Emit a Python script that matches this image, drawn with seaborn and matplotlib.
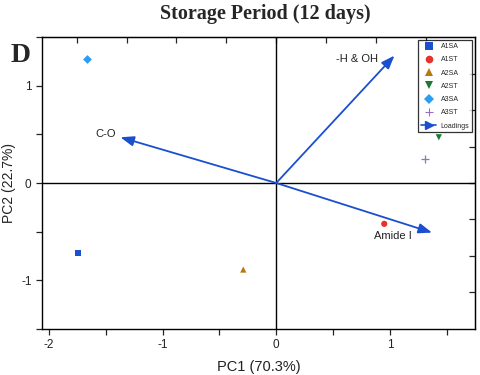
import seaborn as sns
import matplotlib.pyplot as plt
import pandas as pd
import numpy as np
from matplotlib.lines import Line2D

# scores
samples = ["A1SA", "A1ST", "A2SA", "A2ST", "A3SA", "A3ST"]
pc1 = [-1.74, 0.95, -0.29, 1.43, -1.66, 1.31]
pc2 = [-0.72, -0.42, -0.89, 0.47, 1.27, 0.25]
colors = ["#1a4fd0", "#e8302f", "#b8780c", "#1b7a2e", "#2a9df4", "#9a6fbf"]
markers = ["s", "o", "^", "v", "D", "+"]

# loadings
load_names = ["-H & OH", "C-O", "Amide I"]
load_x = [1.04, -1.37, 1.37]
load_y = [1.31, 0.47, -0.51]
label_x = [0.53, -1.59, 0.86]
label_y = [1.28, 0.50, -0.55]

df = pd.DataFrame({"Sample": samples, "PC1": pc1, "PC2": pc2})
filled = df.iloc[:5]
line_art = df.iloc[5:]

sns.set_style("white")
plt.rcParams["font.family"] = ["Liberation Sans", "DejaVu Sans"]
plt.rcParams["axes.unicode_minus"] = False

fig = plt.figure(figsize=(4.8, 3.75), dpi=100)
ax = fig.add_axes([0.0875, 0.123, 0.9025, 0.778])

sns.scatterplot(data=filled, x="PC1", y="PC2", hue="Sample", style="Sample",
                palette=colors[:5], markers=markers[:5], s=20,
                edgecolor="none", legend=False, ax=ax)
sns.scatterplot(data=line_art, x="PC1", y="PC2", color=colors[5], marker="+",
                s=35, linewidth=0.9, legend=False, ax=ax)

ax.axhline(0, color="black", lw=1)
ax.axvline(0, color="black", lw=1)

for name, lx, ly, tx, ty in zip(load_names, load_x, load_y, label_x, label_y):
    ax.annotate("", xy=(lx, ly), xytext=(0, 0),
                arrowprops=dict(arrowstyle="-|>,head_length=0.8,head_width=0.3",
                                color="#1a4fd0", lw=1.3, shrinkA=0, shrinkB=0))
    ax.text(tx, ty, name, fontsize=8, color="#222222", ha="left", va="center")

ax.set_xlim(-2.06, 1.75)
ax.set_ylim(-1.5, 1.5)
ax.set_xticks([-2, -1, 0, 1])
ax.set_yticks([-1, 0, 1])
ax.set_xticks([-1.5, -0.5, 0.5, 1.5], minor=True)
ax.set_yticks([-1.5, -0.5, 0.5, 1.5], minor=True)
ax.tick_params(axis="both", which="both", direction="out", length=4, width=0.9,
               labelsize=8.5, colors="#222222", top=False, right=False,
               bottom=True, left=True)
ax.set_xlabel("PC1 (70.3%)", fontsize=10.5, color="#222222", labelpad=6)
ax.set_ylabel("PC2 (22.7%)", fontsize=10, color="#222222")
ax.yaxis.set_label_coords(-0.06, 0.5)
for sp in ax.spines.values():
    sp.set_color("black")
    sp.set_linewidth(1)

# loading-scale axes on top and right (ticks only)
top = ax.secondary_xaxis("top", functions=(lambda x: x * 1.14, lambda x: x / 1.14))
top.set_xticks(np.arange(-2.5, 2.01, 0.5))
top.tick_params(direction="in", length=4, width=0.9, labeltop=False)
right = ax.secondary_yaxis("right", functions=(lambda y: y * 1.333, lambda y: y / 1.333))
right.set_yticks(np.arange(-2.0, 2.01, 0.5))
right.tick_params(direction="in", length=4, width=0.9, labelright=False)

handles = [Line2D([], [], marker=m, color=c, linestyle="none", markersize=5.5,
                  markeredgewidth=0.8 if m == "+" else 0)
           for m, c in zip(markers, colors)]
handles.append(Line2D([0, 1], [0, 0], color="#1a4fd0", lw=1.2, marker=">",
                      markersize=6, markevery=[1]))
leg = ax.legend(handles, samples + ["Loadings"], loc="upper right", fontsize=5,
                frameon=True, fancybox=False, edgecolor="black",
                borderaxespad=0.45, handletextpad=0.6, labelspacing=0.9,
                borderpad=0.4, handlelength=2.2)
leg.get_frame().set_linewidth(0.9)

fig.text(0.552, 0.962, "Storage Period (12 days)", ha="center", va="center",
         fontsize=14.5, fontweight="bold", family="Liberation Serif")
fig.text(0.022, 0.851, "D", ha="left", va="center", fontsize=20,
         fontweight="bold", family="Liberation Serif")

fig.savefig("out.png", dpi=100)
